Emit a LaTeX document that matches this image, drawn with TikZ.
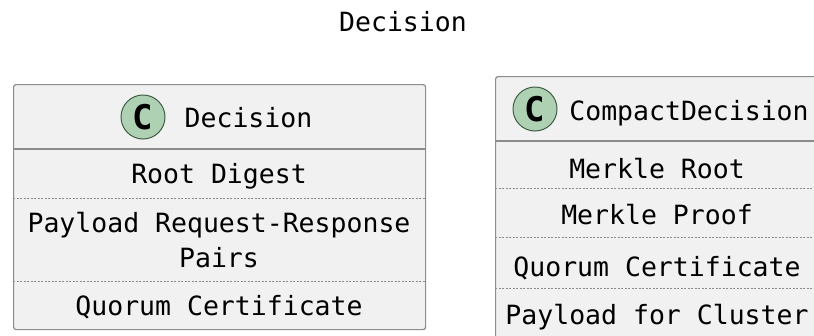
\documentclass[tikz,border=0pt]{standalone}
\usepackage{fontspec}
\setmonofont{DejaVu Sans Mono}
\usetikzlibrary{positioning}
\definecolor{boxfill}{HTML}{F1F1F1}
\definecolor{boxline}{HTML}{8C8C8C}
\definecolor{spotfill}{HTML}{ADD1B2}
\definecolor{spotline}{HTML}{3F5F44}
\tikzstyle{classbox}=[draw=boxline,fill=boxfill,line width=1.2pt,rounded corners=2.5pt,inner sep=0pt]
\tikzstyle{headsep}=[draw=boxline,line width=1.2pt]
\tikzstyle{fieldsep}=[draw=boxline,line width=0.9pt,dash pattern=on 2pt off 1.5pt]
\tikzstyle{field}=[font=\ttfamily\fontsize{26.5}{35}\selectfont,inner sep=0pt,text height=19.3pt,text depth=0pt,align=center,text=black]
\tikzstyle{spot}=[circle,draw=spotline,line width=1pt,fill=spotfill,minimum size=44pt,inner sep=0pt,font=\ttfamily\bfseries\fontsize{34}{34}\selectfont]

\begin{document}
\begin{tikzpicture}[x=1pt,y=-1pt]
    \useasboundingbox (0,0) rectangle (814,335);
    \clip (0,0) rectangle (814,335);

    \node[field] (title) at (403,21.5) {Decision};

    % Decision class
    \node[classbox,anchor=north west,minimum width=412pt,minimum height=245pt] (dec) at (13,84) {};
    \draw[headsep] (13,149) -- (425,149);
    \draw[fieldsep] (13,198) -- (425,198);
    \draw[fieldsep] (13,281) -- (425,281);
    \node[spot] (decspot) at (143,117) {C};
    \node[field] (decname) at (248.5,117.5) {Decision};
    \node[field] (rootdigest) at (219,174) {Root Digest};
    \node[field,text height=54.3pt] (payload) at (219,240) {Payload Request-Response\\Pairs};
    \node[field] (deccert) at (219,306) {Quorum Certificate};

    % CompactDecision class
    \node[classbox,anchor=north west,minimum width=324pt,minimum height=300pt] (cdec) at (495,76) {};
    \draw[headsep] (495,141) -- (819,141);
    \draw[fieldsep] (495,188.5) -- (819,188.5);
    \draw[fieldsep] (495,237) -- (819,237);
    \draw[fieldsep] (495,288) -- (819,288);
    \node[spot] (cdecspot) at (535,109) {C};
    \node[field] (cdecname) at (689,111) {CompactDecision};
    \node[field] (merkleroot) at (657,168.5) {Merkle Root};
    \node[field] (merkleproof) at (657,215) {Merkle Proof};
    \node[field] (cdeccert) at (657,266.5) {Quorum Certificate};
    \node[field] (cluster) at (657,315) {Payload for Cluster};
\end{tikzpicture}
\end{document}
